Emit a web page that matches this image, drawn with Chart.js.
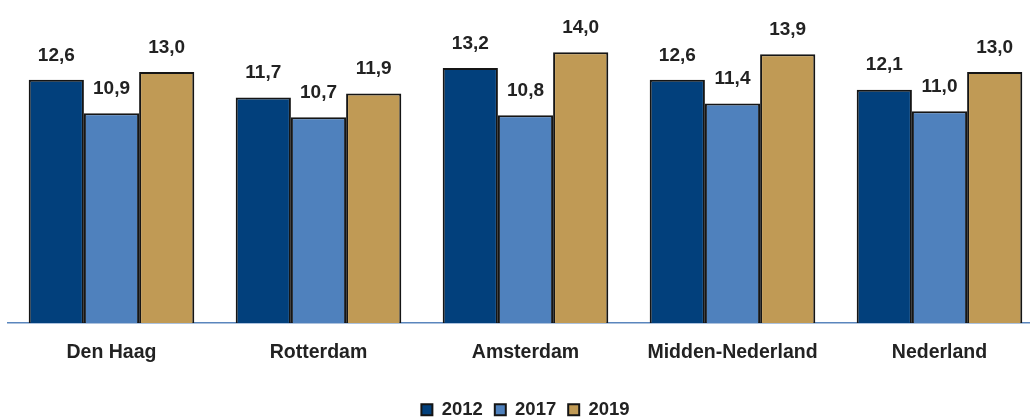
<!DOCTYPE html>
<html>
<head>
<meta charset="utf-8">
<script src="https://cdn.jsdelivr.net/npm/chart.js@4"></script>
<style>
  html, body { margin:0; padding:0; background:#fff; overflow:hidden; }
  .wrap { position:absolute; left:0; top:0; width:1045px; height:429px; }
</style>
</head>
<body>
<div class="wrap"><canvas id="chart" width="1045" height="429"></canvas></div>
<script>
const categories = ['Den Haag', 'Rotterdam', 'Amsterdam', 'Midden-Nederland', 'Nederland'];
const years = ['2012', '2017', '2019'];
const values2012 = [12.6, 11.7, 13.2, 12.6, 12.1];
const values2017 = [10.9, 10.7, 10.8, 11.4, 11.0];
const values2019 = [13.0, 11.9, 14.0, 13.9, 13.0];
const colors = ['#02407c', '#4f81bd', '#c09a55'];

const FONT = 'Liberation Sans, Arial, sans-serif';

// value labels above the bars, comma decimal
const valueLabels = {
  id: 'valueLabels',
  afterDatasetsDraw(chart) {
    const ctx = chart.ctx;
    ctx.save();
    ctx.font = 'bold 19px ' + FONT;
    ctx.fillStyle = '#222';
    ctx.textAlign = 'center';
    ctx.textBaseline = 'bottom';
    chart.data.datasets.forEach((ds, i) => {
      chart.getDatasetMeta(i).data.forEach((bar, j) => {
        ctx.fillText(ds.data[j].toFixed(1).replace('.', ','), bar.x, bar.y - 15);
      });
    });
    ctx.restore();
  }
};

const series = [values2012, values2017, values2019];
new Chart(document.getElementById('chart'), {
  type: 'bar',
  data: {
    labels: categories,
    datasets: years.map((y, i) => ({
      label: y,
      data: series[i],
      backgroundColor: colors[i],
      borderColor: '#151515',
      borderWidth: 2,
      borderSkipped: 'bottom',
      categoryPercentage: 0.8,
      barPercentage: 1.0
    }))
  },
  options: {
    responsive: false,
    animation: false,
    devicePixelRatio: 1,
    layout: { padding: { left: 8, right: 2, top: 0, bottom: 0 } },
    plugins: {
      tooltip: { enabled: false },
      legend: {
        position: 'bottom',
        labels: {
          boxWidth: 11, boxHeight: 11, padding: 12,
          color: '#222',
          font: { family: FONT, size: 18.5, weight: 'bold' }
        }
      }
    },
    scales: {
      x: {
        grid: { display: false, drawTicks: false },
        border: { display: true, color: '#5a86bd', width: 1.5 },
        ticks: { padding: 18, color: '#222', font: { family: FONT, size: 19.5, weight: 'bold' } },
        afterFit(scale) { scale.height += 6; }
      },
      y: {
        display: false,
        min: 0.25,
        max: 16.65
      }
    }
  },
  plugins: [valueLabels]
});
</script>
</body>
</html>
